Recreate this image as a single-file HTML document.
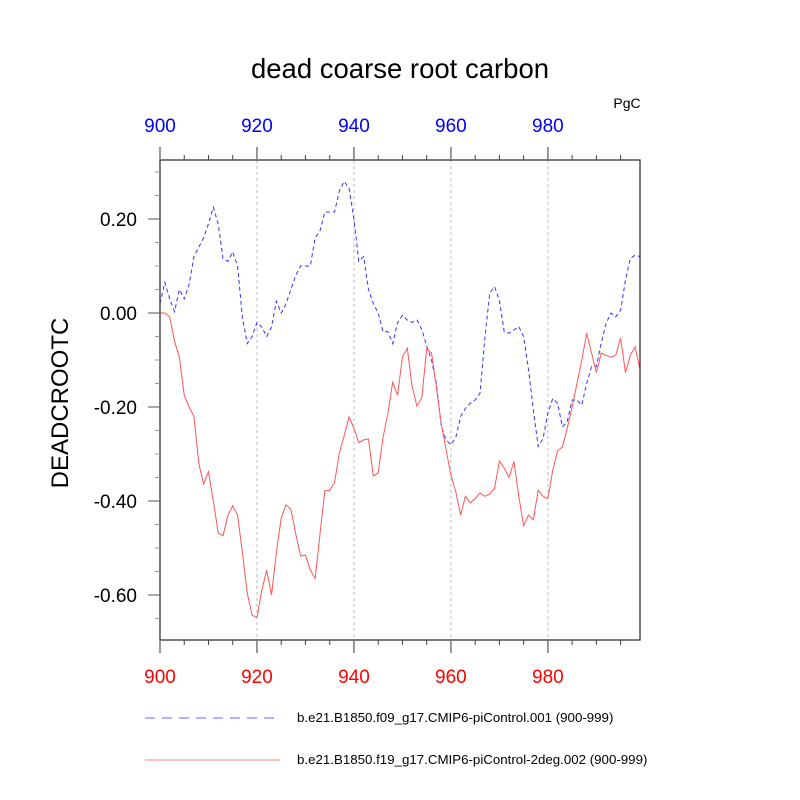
<!DOCTYPE html>
<html><head><meta charset="utf-8"><style>
html,body{margin:0;padding:0;background:#fff;}
svg{display:block;font-family:"Liberation Sans",sans-serif;}
</style></head><body>
<svg id="chart" width="800" height="800" viewBox="0 0 800 800">
<rect width="800" height="800" fill="#fff"/>
<text x="400" y="78" font-size="27.5" text-anchor="middle">dead coarse root carbon</text>
<text x="627" y="108" font-size="14" text-anchor="middle">PgC</text>
<text transform="translate(68,403) rotate(-90)" font-size="24" text-anchor="middle">DEADCROOTC</text>
<g id="grid"></g><g id="series"></g><g id="axes"></g>
<g>
<line x1="145" y1="718" x2="277" y2="718" stroke="#3333ff" stroke-width="0.8" stroke-dasharray="10,7"/>
<text x="297" y="722" font-size="13.3">b.e21.B1850.f09_g17.CMIP6-piControl.001 (900-999)</text>
<line x1="145" y1="760" x2="280" y2="760" stroke="#ff5555" stroke-width="0.8"/>
<text x="297" y="764" font-size="13.3">b.e21.B1850.f19_g17.CMIP6-piControl-2deg.002 (900-999)</text>
</g>
</svg>
<script>
const startYear = 900;
const blueValues = [0.02,0.065,0.03,0.003,0.05,0.03,0.06,0.12,0.14,0.16,0.19,0.225,0.19,0.115,0.11,0.13,0.10,-0.01,-0.065,-0.05,-0.02,-0.03,-0.05,-0.03,0.025,0.0,0.02,0.05,0.08,0.10,0.10,0.10,0.16,0.175,0.215,0.215,0.215,0.26,0.28,0.265,0.20,0.11,0.12,0.05,0.02,0.0,-0.04,-0.04,-0.065,-0.02,-0.005,-0.015,-0.02,-0.015,-0.035,-0.07,-0.10,-0.15,-0.24,-0.27,-0.28,-0.265,-0.22,-0.203,-0.192,-0.185,-0.171,-0.054,0.042,0.056,0.027,-0.04,-0.043,-0.036,-0.029,-0.05,-0.12,-0.206,-0.284,-0.267,-0.213,-0.182,-0.192,-0.242,-0.231,-0.185,-0.185,-0.196,-0.15,-0.114,-0.114,-0.064,-0.022,0.0,-0.008,0.006,0.07,0.116,0.123,0.12];
const redValues = [0.0,0.0,-0.008,-0.06,-0.095,-0.175,-0.2,-0.22,-0.32,-0.364,-0.338,-0.40,-0.468,-0.474,-0.43,-0.41,-0.43,-0.51,-0.596,-0.643,-0.648,-0.59,-0.547,-0.6,-0.51,-0.436,-0.408,-0.418,-0.47,-0.517,-0.515,-0.547,-0.565,-0.47,-0.378,-0.378,-0.36,-0.298,-0.26,-0.221,-0.245,-0.276,-0.27,-0.268,-0.347,-0.34,-0.265,-0.214,-0.147,-0.175,-0.094,-0.075,-0.157,-0.198,-0.18,-0.077,-0.085,-0.157,-0.235,-0.29,-0.345,-0.38,-0.43,-0.39,-0.404,-0.395,-0.383,-0.39,-0.385,-0.373,-0.315,-0.33,-0.35,-0.316,-0.39,-0.453,-0.43,-0.44,-0.377,-0.39,-0.395,-0.335,-0.293,-0.285,-0.245,-0.2,-0.15,-0.10,-0.043,-0.085,-0.127,-0.085,-0.09,-0.094,-0.09,-0.053,-0.127,-0.09,-0.072,-0.12];
const yTicks = [0.2,0.0,-0.2,-0.4,-0.6];
const yTickLabels = ["0.20","0.00","-0.20","-0.40","-0.60"];
const xTicks = [900,920,940,960,980];
const xTickLabels = ["900","920","940","960","980"];

const L=160,R=640,T=160,B=640;
const xMin=900,xMax=999,yMin=-0.6957,yMax=0.3255;
const X=v=>L+(v-xMin)/(xMax-xMin)*(R-L);
const Y=v=>B-(v-yMin)/(yMax-yMin)*(B-T);
const NS="http://www.w3.org/2000/svg";
function mk(tag,attrs,parent){const e=document.createElementNS(NS,tag);for(const k in attrs)e.setAttribute(k,attrs[k]);parent.appendChild(e);return e;}
const grid=document.getElementById('grid'),series=document.getElementById('series'),axes=document.getElementById('axes');

xTicks.forEach((t,i)=>{ if(i===0) return;
  const g=mk('line',{x1:X(t),x2:X(t),y1:T,y2:B,stroke:'#bbb','stroke-width':1,'stroke-dasharray':'3,3'},grid);
  
  
});

function path(vals,color,dash,name){
  let d='';vals.forEach((v,i)=>{d+=(i?'L':'M')+X(startYear+i).toFixed(2)+','+Y(v).toFixed(2);});
  const p=mk('path',{d:d,fill:'none',stroke:color,'stroke-width':1},series);
  if(dash)p.setAttribute('stroke-dasharray',dash);
  
  
}
path(blueValues,'#3333ff','4,3','series-control001-line');
path(redValues,'#ff5555',null,'series-control2deg-line');

const frame=mk('rect',{x:L,y:T,width:R-L,height:B-T,fill:'none',stroke:'#333','stroke-width':1.3},axes);



for(let yr=900;yr<=999;yr+=5){
  const major=xTicks.includes(yr);
  const len=major?13:5;
  const c=major?'#777':'#444';
  const tb=mk('line',{x1:X(yr),x2:X(yr),y1:B,y2:B+len,stroke:c,'stroke-width':major?1.5:1},axes);
  
  
  const tt=mk('line',{x1:X(yr),x2:X(yr),y1:T,y2:T-len,stroke:c,'stroke-width':major?1.5:1},axes);
  
  
}
xTicks.forEach((t,i)=>{
  const b=mk('text',{x:X(t),y:683,'font-size':19,'text-anchor':'middle',fill:'#ff0000'},axes);
  b.textContent=xTickLabels[i];
  
  
  const tp=mk('text',{x:X(t),y:132,'font-size':19,'text-anchor':'middle',fill:'#0000ff'},axes);
  tp.textContent=xTickLabels[i];
  
  
});
for(let k=-13;k<=6;k++){
  const v=k*0.05; if(v<yMin||v>yMax) continue;
  const major=(k%4===0);
  const t=mk('line',{x1:L,x2:L-(major?12:5),y1:Y(v),y2:Y(v),stroke:major?'#555':'#999','stroke-width':1},axes);
  
  
}
yTicks.forEach((t,i)=>{
  const e=mk('text',{x:137,y:Y(t)+7,'font-size':19,'text-anchor':'end'},axes);
  e.textContent=yTickLabels[i];
  
  
});
</script>
</body></html>
